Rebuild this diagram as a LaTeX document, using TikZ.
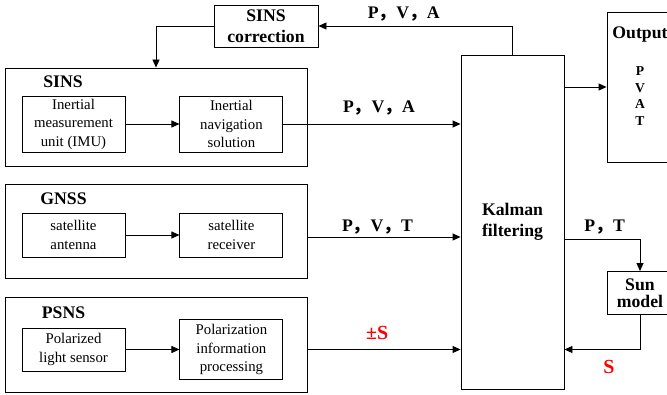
\documentclass[tikz,border=0pt]{standalone}
\usepackage{fontspec}
\setmainfont{Liberation Serif}
\newfontfamily\cjk{Noto Sans CJK SC}
\usetikzlibrary{arrows.meta,positioning}
\newcommand{\dou}{{\cjk ，}}

\begin{document}
\begin{tikzpicture}[x=1pt,y=-1pt,>={Triangle[length=8pt,width=7pt]},line width=0.9pt,
    frame/.style={draw,minimum width=302pt,inner sep=0pt},
    unit/.style={draw,align=center,minimum width=103pt,inner sep=0pt,font=\fontsize{14.8}{18.5}\selectfont},
    head/.style={font=\fontsize{17.7}{20}\selectfont\bfseries,anchor=base,inner sep=0pt},
    block/.style={draw,align=center,inner sep=0pt,font=\fontsize{17.7}{21}\selectfont\bfseries},
    sig/.style={font=\fontsize{17.7}{20}\selectfont\bfseries,anchor=base,inner sep=0pt},
    red sig/.style={font=\fontsize{20}{22}\selectfont\bfseries,text=red,anchor=base,inner sep=0pt}]

    \useasboundingbox (0,0) rectangle (667,395);

    % navigation subsystems
    \node[frame,minimum height=98pt] (sins) at (156,117) {};
    \node[frame,minimum height=94pt] (gnss) at (156,231) {};
    \node[frame,minimum height=95pt] (psns) at (156,344.5) {};
    \node[head] (sinsname) at (63,88) {SINS};
    \node[head] (gnssname) at (63.5,205) {GNSS};
    \node[head] (psnsname) at (63.5,319) {PSNS};

    \node[unit,minimum height=56pt] (imu) at (73.5,124) {Inertial\\measurement\\unit (IMU)};
    \node[unit,minimum height=56pt,right=54pt of imu] (ins) {Inertial\\navigation\\solution};
    \node[unit,minimum height=44pt] (ant) at (73.5,235) {satellite\\antenna};
    \node[unit,minimum height=44pt,right=54pt of ant] (rec) {satellite\\receiver};
    \node[unit,minimum height=43pt] (pls) at (73.5,349.5) {Polarized\\light sensor};
    \node[unit,minimum height=60pt,right=54pt of pls] (pip) {Polarization\\information\\processing};

    % fusion
    \node[block,minimum width=103pt,minimum height=334pt] (kal) at (512.5,222) {Kalman\\filtering};
    \node[block,minimum width=104pt,minimum height=42pt] (corr) at (266,26) {SINS\\correction};
    \node[block,minimum width=66pt,minimum height=43pt,font=\fontsize{17.7}{17}\selectfont\bfseries] (sun) at (640,293) {Sun\\model};
    \node[draw,minimum width=66pt,minimum height=150pt] (out) at (640,87) {};
    \node[head] (outname) at (640,38.5) {Output};
    \node[align=center,inner sep=0pt,font=\fontsize{13.6}{16.7}\selectfont\bfseries] (outvals) at (640,96) {P\\V\\A\\T};

    \draw[->] (kal.north) |- node[sig,pos=0.78,yshift=7.5pt] (pva1) {P\dou V\dou A} (corr.east);
    \draw[->] (corr.west) -| (sins.north);
    \draw[->] (imu) -- (ins);
    \draw[->] (ins.east) -- node[sig,pos=0.54,yshift=11pt] (pva2) {P\dou V\dou A} (ins.east -| kal.west);
    \draw[->] (ant) -- (rec);
    \draw[->] ([yshift=-6pt]gnss.east) -- node[sig,pos=0.458,yshift=5.6pt] (pvt) {P\dou V\dou T} ([yshift=-6pt]gnss.east -| kal.west);
    \draw[->] (pls) -- (pip);
    \draw[->] (pip.east -| psns.east) -- node[red sig,pos=0.455,yshift=9.7pt] (pms) {±S} (pip.east -| kal.west);
    \draw[->] (out.west -| kal.east) -- (out.west);
    \draw[->] ([yshift=-17pt]kal.east) -| node[sig,pos=0.266,yshift=7.3pt] (pt) {P\dou T} (sun.north);
    \draw[->] (sun.south) |- node[red sig,pos=0.705,yshift=-24.3pt] (s) {S} (pip.east -| kal.east);
\end{tikzpicture}
\end{document}
